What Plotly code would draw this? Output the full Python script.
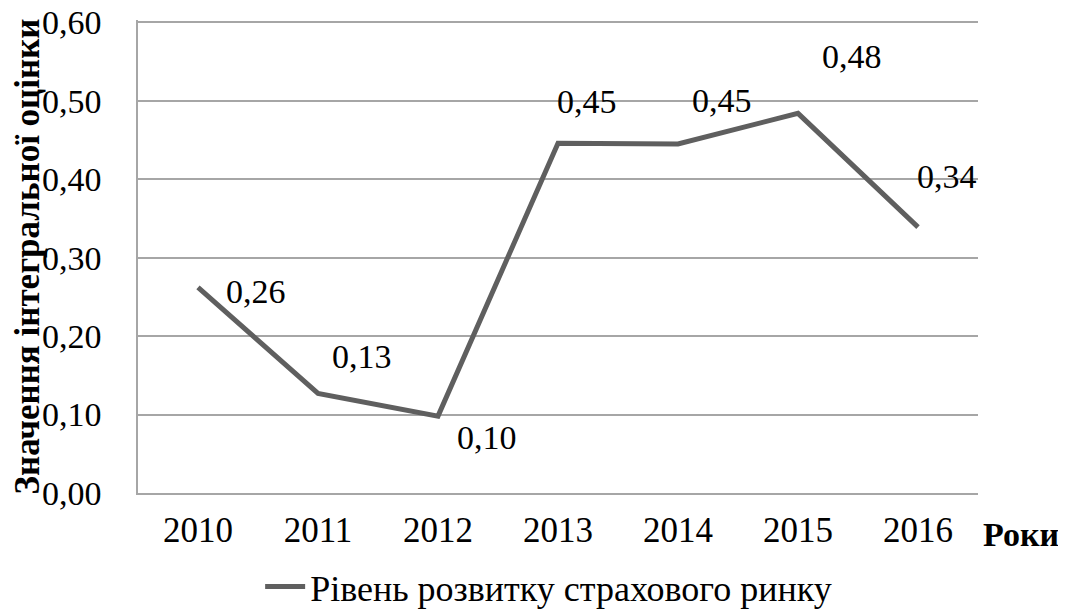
import plotly.graph_objects as go

years = ["2010", "2011", "2012", "2013", "2014", "2015", "2016"]
values = [0.262, 0.127, 0.098, 0.446, 0.445, 0.484, 0.339]
labels = ["0,26", "0,13", "0,10", "0,45", "0,45", "0,48", "0,34"]
y_ticks = [0, 0.1, 0.2, 0.3, 0.4, 0.5, 0.6]
series_name = "Рівень розвитку страхового ринку"
y_title = "Значення інтегральної оцінки"
x_title = "Роки"

# label offsets (pixels) relative to each point
label_dx = [58, 44, 49, 29, 44, 54, 29]
label_dy = [-4, 37, -21, 42, 43, 57, 51]

FONT = "Liberation Serif"
LINE_COLOR = "#5f5f5f"
GRID_COLOR = "#a6a6a6"

fig = go.Figure()
fig.add_trace(go.Scatter(
    x=years, y=values, mode="lines", name=series_name,
    line=dict(color=LINE_COLOR, width=5),
    showlegend=True,
))

for i, (yv, t, dx, dy) in enumerate(zip(values, labels, label_dx, label_dy)):
    fig.add_annotation(x=i, y=yv, text=t, showarrow=False,
                       xshift=dx, yshift=dy,
                       font=dict(family=FONT, size=34, color="#000000"))

fig.add_annotation(xref="paper", yref="paper", x=1.004, y=-0.045,
                   xanchor="left", yanchor="top", text="<b>" + x_title + "</b>",
                   showarrow=False, font=dict(family=FONT, size=34, color="#000000"))

# page body has an 8px margin, so the figure is 8px smaller than the window
fig.update_layout(
    width=1058, height=604,
    paper_bgcolor="white", plot_bgcolor="white",
    separators=", ",
    margin=dict(l=130, r=88, t=12, b=119, autoexpand=False),
    font=dict(family=FONT, size=34, color="#000000"),
    legend=dict(orientation="h", xref="container", yref="container",
                x=0.511, xanchor="center", y=0.042, yanchor="middle",
                font=dict(family=FONT, size=36, color="#000000"),
                itemwidth=40, bgcolor="rgba(0,0,0,0)"),
    showlegend=True,
)

fig.update_xaxes(
    type="category", range=[-0.5, len(years) - 0.5], automargin=False,
    showgrid=False, showline=True, linecolor=GRID_COLOR, linewidth=1.5,
    ticks="", tickfont=dict(family=FONT, size=35), ticklabelstandoff=5,
)
fig.update_yaxes(
    range=[0, 0.603], tickvals=y_ticks, tickformat=".2f",
    automargin=False, ticklabeloverflow="allow",
    showgrid=True, gridcolor=GRID_COLOR, gridwidth=1.5,
    showline=True, linecolor=GRID_COLOR, linewidth=1.5, zeroline=False,
    ticks="", tickfont=dict(family=FONT, size=34), ticklabelstandoff=28,
    title=dict(text="<b>" + y_title + "</b>", font=dict(family=FONT, size=35), standoff=2),
)

fig.write_html("out.html")
